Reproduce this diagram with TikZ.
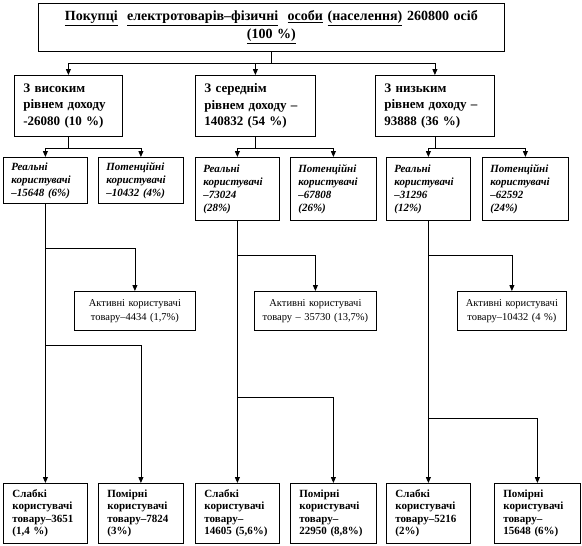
\documentclass[tikz,border=0pt]{standalone}
\usepackage{fontspec}
\setmainfont{Liberation Serif}
\usetikzlibrary{arrows.meta}
\begin{document}
\begin{tikzpicture}[x=1pt,y=-1pt,
  bx/.style={draw, line width=0.8pt, anchor=north west, inner ysep=0pt, align=left},
  topbox/.style={bx, align=center, font=\fontsize{14}{18}\selectfont\bfseries},
  lvtwo/.style={bx, inner xsep=9pt, minimum height=61pt, font=\fontsize{13}{16.5}\selectfont\bfseries},
  lvthree/.style={bx, inner xsep=8pt, font=\fontsize{11}{13}\selectfont\bfseries\itshape},
  actbox/.style={bx, align=center, inner xsep=4pt, minimum height=39pt, font=\fontsize{10.5}{14}\selectfont},
  lvfive/.style={bx, inner xsep=9pt, minimum height=60pt, font=\fontsize{11}{12.5}\selectfont\bfseries},
  arr/.style={line width=0.8pt, -{Triangle[width=5pt,length=6pt]}}]
\useasboundingbox (0,0) rectangle (582,546);

% top
\node[topbox, minimum width=466pt, minimum height=48pt, text width=450pt] (top) at (38,3)
  {\underline{Покупці}~ \underline{електротоварів–фізичні}~ \underline{особи} \underline{(населення)} 260800 осіб\\\underline{(100~\%)}};

% level 2
\node[lvtwo, minimum width=108pt, text width=90pt] (l2a) at (14,75) {З~високим\\рівнем~доходу\\-26080~(10~\%)};
\node[lvtwo, minimum width=120pt, text width=102pt] (l2b) at (195,75) {З~середнім\\рівнем~доходу~–\\140832~(54~\%)};
\node[lvtwo, minimum width=119pt, text width=101pt] (l2c) at (375,75) {З~низьким\\рівнем~доходу~–\\93888~(36~\%)};

% level 3
\node[lvthree, minimum width=84pt, minimum height=46pt, text width=68pt] (l3a) at (3,157) {Реальні\\користувачі\\–15648~(6\%)};
\node[lvthree, minimum width=85pt, minimum height=46pt, text width=69pt] (l3b) at (98,157) {Потенційні\\користувачі\\–10432~(4\%)};
\node[lvthree, minimum width=84pt, minimum height=63pt, text width=68pt] (l3c) at (195,157) {Реальні\\користувачі\\–73024\\(28\%)};
\node[lvthree, minimum width=86pt, minimum height=63pt, text width=70pt] (l3d) at (290,157) {Потенційні\\користувачі\\–67808\\(26\%)};
\node[lvthree, minimum width=84pt, minimum height=63pt, text width=68pt] (l3e) at (386,157) {Реальні\\користувачі\\–31296\\(12\%)};
\node[lvthree, minimum width=86pt, minimum height=63pt, text width=70pt] (l3f) at (482,157) {Потенційні\\користувачі\\–62592\\(24\%)};

% active users
\node[actbox, minimum width=121pt, text width=113pt] (acta) at (74,291) {Активні~користувачі\\товару–4434~(1,7\%)};
\node[actbox, minimum width=122pt, text width=114pt] (actb) at (254,291) {Активні~користувачі\\товару~–~35730~(13,7\%)};
\node[actbox, minimum width=109pt, text width=101pt] (actc) at (457,291) {Активні~користувачі\\товару–10432~(4~\%)};

% level 5
\node[lvfive, minimum width=84pt, text width=66pt] (wa) at (3,483) {Слабкі\\користувачі\\товару–3651\\(1,4~\%)};
\node[lvfive, minimum width=85pt, text width=67pt] (ma) at (98,483) {Помірні\\користувачі\\товару–7824\\(3\%)};
\node[lvfive, minimum width=84pt, text width=66pt] (wb) at (195,483) {Слабкі\\користувачі\\товару–\\14605~(5,6\%)};
\node[lvfive, minimum width=86pt, text width=68pt] (mb) at (290,483) {Помірні\\користувачі\\товару–\\22950~(8,8\%)};
\node[lvfive, minimum width=84pt, text width=66pt] (wc) at (386,483) {Слабкі\\користувачі\\товару–5216\\(2\%)};
\node[lvfive, minimum width=86pt, text width=68pt] (mc) at (494,483) {Помірні\\користувачі\\товару–\\15648~(6\%)};

% connectors top -> level 2
\draw[arr] (top.south) -- ++(0,12) -| (l2a.north);
\draw[arr] (top.south) -- ++(0,12) -| (l2b.north);
\draw[arr] (top.south) -- ++(0,12) -| (l2c.north);

% level 2 -> level 3
\draw[arr] (l2a.south) -- ++(0,12) -| (l3a.north);
\draw[arr] (l2a.south) -- ++(0,12) -| (l3b.north);
\draw[arr] (l2b.south) -- ++(0,12) -| (l3c.north);
\draw[arr] (l2b.south) -- ++(0,12) -| (l3d.north);
\draw[arr] (l2c.south) -- ++(0,12) -| (l3e.north);
\draw[arr] (l2c.south) -- ++(0,12) -| (l3f.north);

% real users -> active
\draw[arr] (l3a.south) -- ++(0,45) -| (acta.north);
\draw[arr] (l3c.south) -- ++(0,35) -| (actb.north);
\draw[arr] (l3e.south) -- ++(0,35) -| (actc.north);

% real users -> weak
\draw[arr] (l3a.south) -- (wa.north);
\draw[arr] (l3c.south) -- (wb.north);
\draw[arr] (l3e.south) -- (wc.north);

% real users -> moderate
\draw[arr] ([yshift=-142pt]l3a.south) -| (ma.north);
\draw[arr] ([yshift=-177pt]l3c.south) -| (mb.north);
\draw[arr] ([yshift=-198pt]l3e.south) -| (mc.north);
\end{tikzpicture}
\end{document}
